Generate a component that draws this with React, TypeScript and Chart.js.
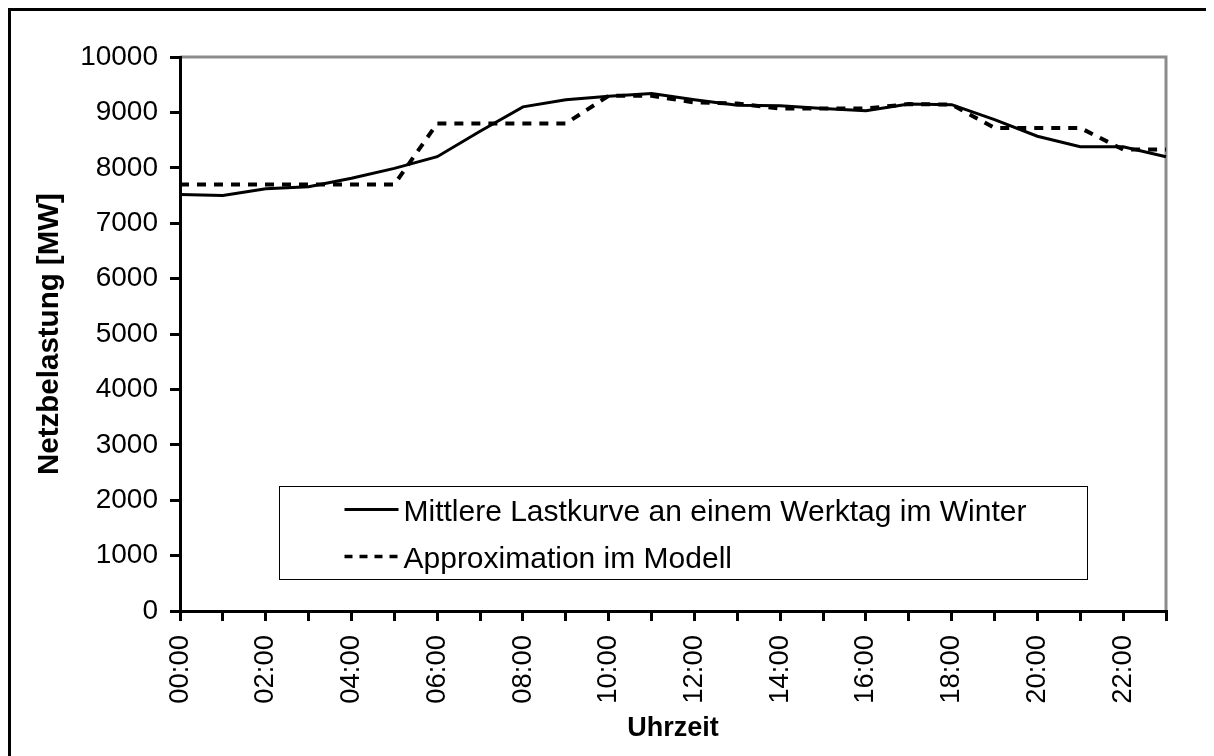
import { useEffect, useRef } from "react";
import { Chart, registerables } from "chart.js";

Chart.register(...registerables);

const hours = [
  "00:00", "01:00", "02:00", "03:00", "04:00", "05:00", "06:00", "07:00",
  "08:00", "09:00", "10:00", "11:00", "12:00", "13:00", "14:00", "15:00",
  "16:00", "17:00", "18:00", "19:00", "20:00", "21:00", "22:00", "23:00",
];

const lastkurve = [
  7520, 7500, 7620, 7660, 7810, 7990, 8200, 8660, 9100, 9230, 9290, 9340,
  9230, 9130, 9120, 9070, 9030, 9150, 9140, 8870, 8570, 8380, 8380, 8200,
];

const approximation = [
  7700, 7700, 7700, 7700, 7700, 7700, 8800, 8800, 8800, 8800, 9300, 9300,
  9180, 9160, 9070, 9070, 9070, 9150, 9140, 8720, 8720, 8720, 8330, 8330,
];

const seriesLabels = [
  "Mittlere Lastkurve an einem Werktag im Winter",
  "Approximation im Modell",
];

const yAxisTitle = "Netzbelastung [MW]";
const xAxisTitle = "Uhrzeit";

const FONT = "'Liberation Sans', Arial, Helvetica, sans-serif";

const framePlugin = {
  id: "frame",
  beforeDraw(chart: any) {
    const { ctx, chartArea: ca } = chart;
    ctx.save();
    ctx.strokeStyle = "#8c8c8c";
    ctx.lineWidth = 3;
    ctx.beginPath();
    ctx.moveTo(ca.left, ca.top);
    ctx.lineTo(ca.right, ca.top);
    ctx.lineTo(ca.right, ca.bottom);
    ctx.stroke();
    ctx.restore();
  },
  afterDraw(chart: any) {
    const { ctx } = chart;
    ctx.save();
    ctx.fillStyle = "#fff";
    ctx.fillRect(chart.width - 24, 4, 24, chart.height);
    ctx.strokeStyle = "#000";
    ctx.lineWidth = 3;
    ctx.beginPath();
    ctx.moveTo(0, 1.5);
    ctx.lineTo(chart.width, 1.5);
    ctx.moveTo(1.5, 0);
    ctx.lineTo(1.5, chart.height);
    ctx.stroke();
    ctx.restore();
  },
};

const legendBoxPlugin = {
  id: "legendBox",
  afterDatasetsDraw(chart: any) {
    const { ctx, chartArea: ca } = chart;
    const x0 = Math.round(ca.left + 99) + 0.5;
    const x1 = Math.round(ca.right - 79) + 0.5;
    const y1 = Math.round(ca.bottom - 32) + 0.5;
    const y0 = y1 - 93;
    ctx.save();
    ctx.fillStyle = "#fff";
    ctx.fillRect(x0, y0, x1 - x0, y1 - y0);
    ctx.strokeStyle = "#000";
    ctx.lineWidth = 1;
    ctx.strokeRect(x0, y0, x1 - x0, y1 - y0);
    const rows = [
      { line: 23, base: 34, dash: [] as number[], width: 3 },
      { line: 70, base: 81, dash: [8, 7], width: 3.5 },
    ];
    chart.data.datasets.forEach((ds: any, i: number) => {
      const r = rows[i];
      ctx.strokeStyle = ds.borderColor;
      ctx.lineWidth = r.width;
      ctx.setLineDash(r.dash);
      ctx.beginPath();
      ctx.moveTo(x0 + 65, y0 + r.line);
      ctx.lineTo(x0 + 119, y0 + r.line);
      ctx.stroke();
      ctx.setLineDash([]);
      ctx.fillStyle = "#000";
      ctx.font = `30px ${FONT}`;
      ctx.textAlign = "left";
      ctx.textBaseline = "alphabetic";
      ctx.fillText(ds.label, x0 + 124, y0 + r.base);
    });
    ctx.restore();
  },
};

export default function App() {
  const ref = useRef<HTMLCanvasElement>(null);

  useEffect(() => {
    document.documentElement.style.overflow = "hidden";
    document.body.style.overflow = "hidden";
    const canvas = ref.current!;
    const chart = new Chart(canvas, {
      type: "line",
      data: {
        labels: hours,
        datasets: [
          {
            label: seriesLabels[0],
            data: lastkurve,
            borderColor: "#000",
            backgroundColor: "#000",
            borderWidth: 3,
            pointRadius: 0,
            tension: 0,
            fill: false,
          },
          {
            label: seriesLabels[1],
            data: approximation,
            borderColor: "#000",
            backgroundColor: "#000",
            borderWidth: 4,
            borderDash: [9, 8],
            pointRadius: 0,
            tension: 0,
            fill: false,
          },
        ],
      },
      options: {
        responsive: false,
        animation: false,
        devicePixelRatio: 1,
        layout: { padding: { left: 0, top: 49, right: 48, bottom: 0 } },
        plugins: {
          legend: { display: false },
          tooltip: { enabled: false },
          title: { display: false },
        },
        scales: {
          x: {
            type: "category",
            offset: false,
            afterFit(scale: any) {
              scale.height = 145;
            },
            grid: {
              drawOnChartArea: false,
              drawTicks: true,
              tickLength: 10,
              tickColor: "#000",
              tickWidth: 3,
              color: "#000",
              lineWidth: 3,
            },
            border: { display: true, color: "#000", width: 3 },
            ticks: {
              autoSkip: false,
              minRotation: 90,
              maxRotation: 90,
              padding: 14,
              color: "#000",
              font: { family: FONT, size: 27.5 },
              callback: (_v: any, i: number) => (i % 2 === 0 ? hours[i] : ""),
            },
            title: {
              display: true,
              text: xAxisTitle,
              color: "#000",
              font: { family: FONT, size: 27, weight: "bold" },
              padding: { top: 0, bottom: 11 },
            },
          },
          y: {
            min: 0,
            max: 10000,
            afterFit(scale: any) {
              scale.width = 172;
            },
            grid: {
              drawOnChartArea: false,
              drawTicks: true,
              tickLength: 10,
              tickColor: "#000",
              tickWidth: 3,
              color: "#000",
              lineWidth: 3,
            },
            border: { display: true, color: "#000", width: 3 },
            ticks: {
              stepSize: 1000,
              padding: 12,
              color: "#000",
              font: { family: FONT, size: 28 },
              callback: (v: any) => String(v),
            },
            title: {
              display: true,
              text: yAxisTitle,
              color: "#000",
              font: { family: FONT, size: 29.5, weight: "bold" },
              padding: { top: 24, bottom: 0 },
            },
          },
        },
      },
      plugins: [framePlugin, legendBoxPlugin],
    });
    return () => chart.destroy();
  }, []);

  return (
    <canvas
      ref={ref}
      width={1206}
      height={748}
      style={{ display: "block", width: 1206, height: 748 }}
    />
  );
}
